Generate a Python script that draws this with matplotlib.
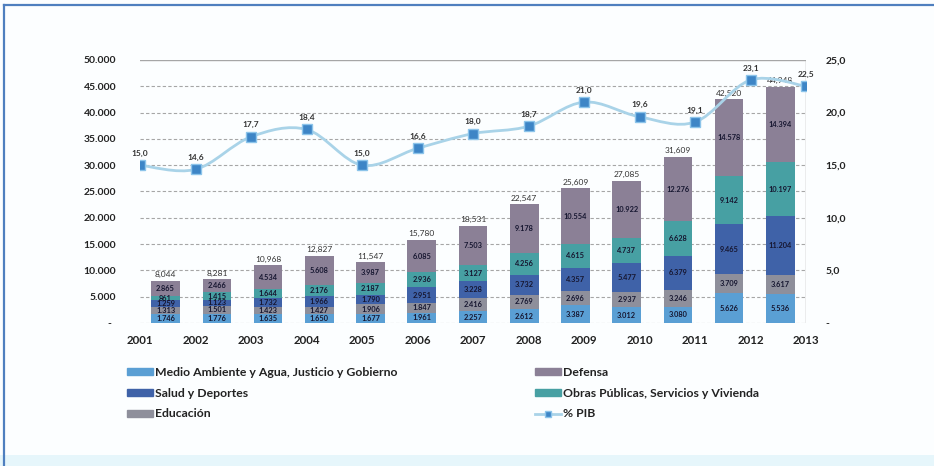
import numpy as np
import matplotlib
matplotlib.use("Agg")
import matplotlib.pyplot as plt
from matplotlib.path import Path
from matplotlib.patches import PathPatch, Rectangle
from matplotlib.lines import Line2D
from matplotlib.ticker import FixedLocator

plt.rcParams['font.family'] = ['Lato', 'DejaVu Sans']

# gasto por sector (millones), apilado de abajo hacia arriba
years = ['2001', '2002', '2003', '2004', '2005', '2006', '2007',
         '2008', '2009', '2010', '2011', '2012', '2013']
medio = [1746, 1776, 1635, 1650, 1677, 1961, 2257, 2612, 3387, 3012, 3080, 5626, 5536]
educacion = [1313, 1501, 1423, 1427, 1906, 1847, 2416, 2769, 2696, 2937, 3246, 3709, 3617]
salud = [1259, 1123, 1732, 1966, 1790, 2951, 3228, 3732, 4357, 5477, 6379, 9465, 11204]
obras = [861, 1415, 1644, 2176, 2187, 2936, 3127, 4256, 4615, 4737, 6628, 9142, 10197]
defensa = [2865, 2466, 4534, 5608, 3987, 6085, 7503, 9178, 10554, 10922, 12276, 14578, 14394]
pib = [15.0, 14.6, 17.7, 18.4, 15.0, 16.6, 18.0, 18.7, 21.0, 19.6, 19.1, 23.1, 22.5]

series = [
    ('Medio Ambiente y Agua, Justicio y Gobierno', medio, '#5a9fd4'),
    ('Educación', educacion, '#8e8f9b'),
    ('Salud y Deportes', salud, '#3f62a8'),
    ('Obras Públicas, Servicios y Vivienda', obras, '#47a0a3'),
    ('Defensa', defensa, '#8b8096'),
]
line_col = '#a9d3e8'
marker_col = '#3d85c6'
txt = '#222222'


def fmt_miles(v):
    return f"{v:,.0f}".replace(',', '.')


fig = plt.figure(figsize=(9.34, 4.66), dpi=100)
fig.patch.set_facecolor('#fcfeff')

# marco
fig.add_artist(Rectangle((0, 0), 1, 11 / 466, transform=fig.transFigure,
                         facecolor='#e6f6fb', edgecolor='none'))
fig.add_artist(Line2D([4 / 934, 4 / 934], [0, 1 - 5 / 466], transform=fig.transFigure,
                      color='#4f7fbf', lw=1.6))
fig.add_artist(Line2D([4 / 934, 1], [1 - 5 / 466, 1 - 5 / 466], transform=fig.transFigure,
                      color='#4f7fbf', lw=1.6))

rect = [140 / 934, 1 - 323 / 466, 666 / 934, 263 / 466]
ax = fig.add_axes(rect)
ax.set_facecolor('none')

x = np.arange(len(years))
bottom = np.zeros(len(years))
width = 0.56
for name, vals, col in series:
    vals = np.array(vals, dtype=float)
    ax.bar(x, vals, width, bottom=bottom, color=col, label=name, zorder=2)
    for xi, b, v in zip(x, bottom, vals):
        ax.text(xi, b + v / 2, fmt_miles(v), ha='center', va='center',
                fontsize=5.3, fontweight='bold', color='#161630', zorder=3)
    bottom += vals

for xi, tot in zip(x, bottom):
    ax.text(xi, tot + 500, f"{tot:,.0f}", ha='center', va='bottom',
            fontsize=6, color='#333333', zorder=3)

ax.set_xlim(-0.5, len(years) - 0.5)
ax.set_ylim(0, 50000)
ax.yaxis.set_major_locator(FixedLocator(np.arange(0, 50001, 5000)))
ax.set_yticklabels(['-  '] + [fmt_miles(v) for v in np.arange(5000, 50001, 5000)])
ax.set_xticks([])
ax.tick_params(axis='y', length=0, pad=17, labelsize=7.5, labelcolor=txt)
for lab in ax.get_yticklabels():
    lab.set_fontweight('bold')
for v in np.arange(0, 50000, 5000):
    ax.axhline(v, color='#a6a6a6', lw=0.8, ls=(0, (3, 2)), zorder=1)
ax.axhline(50000, color='#a6a6a6', lw=1.0, zorder=1)
for s in ax.spines.values():
    s.set_visible(False)

# % PIB en eje secundario
ax2 = fig.add_axes(rect, frameon=False)
ax2.set_facecolor('none')
ax2.set_xlim(0, len(years) - 1)
ax2.set_ylim(0, 25)
ax2.yaxis.tick_right()
ax2.set_yticks(np.arange(0, 26, 5))
ax2.set_yticklabels(['-'] + [f"{v:.1f}".replace('.', ',') for v in np.arange(5, 26, 5)])
ax2.set_xticks(x)
ax2.set_xticklabels(years)
ax2.tick_params(axis='y', length=0, pad=14, labelsize=7.5, labelcolor=txt)
ax2.tick_params(axis='x', length=0, pad=9, labelsize=8.3, labelcolor=txt)
for lab in ax2.get_yticklabels() + ax2.get_xticklabels():
    lab.set_fontweight('bold')
ax2.axvline(len(years) - 1, color='#a6a6a6', lw=1.0)

# linea suavizada (Catmull-Rom como curvas Bezier)
pts = np.column_stack([x, pib]).astype(float)
ext = np.vstack([pts[0], pts, pts[-1]])
verts = [tuple(pts[0])]
codes = [Path.MOVETO]
for i in range(len(pts) - 1):
    p0, p1, p2, p3 = ext[i], ext[i + 1], ext[i + 2], ext[i + 3]
    verts += [tuple(p1 + (p2 - p0) / 6), tuple(p2 - (p3 - p1) / 6), tuple(p2)]
    codes += [Path.CURVE4] * 3
ax2.add_patch(PathPatch(Path(verts, codes), facecolor='none', edgecolor=line_col,
                        lw=2.0, zorder=4))
ax2.plot(x, pib, ls='none', marker='s', ms=7, mfc=marker_col, mec='#8cc4ea',
         mew=1.0, zorder=5)
for xi, v in zip(x, pib):
    ax2.text(xi, v + 0.8, f"{v:.1f}".replace('.', ','), ha='center', va='bottom',
             fontsize=6, fontweight='bold', color='#333333', zorder=6)

# leyenda en dos columnas
h = {name: Rectangle((0, 0), 1, 1, color=col) for name, _, col in series}
pib_handle = Line2D([], [], color=line_col, lw=2, marker='s', ms=5,
                    mfc=marker_col, mec='#8cc4ea')
left_names = ['Medio Ambiente y Agua, Justicio y Gobierno', 'Salud y Deportes', 'Educación']
right_names = ['Defensa', 'Obras Públicas, Servicios y Vivienda']
leg_kw = dict(frameon=False, prop={'size': 8.8, 'weight': 'bold'}, labelcolor=txt,
              handlelength=2.1, handleheight=0.5, handletextpad=0.2,
              labelspacing=0.8, loc='upper left', borderaxespad=0)
fig.legend([h[n] for n in left_names], left_names,
           bbox_to_anchor=(122 / 934, 1 - 362 / 466), **leg_kw)
fig.legend([h[n] for n in right_names] + [pib_handle], right_names + ['% PIB'],
           bbox_to_anchor=(530 / 934, 1 - 362 / 466), **leg_kw)

fig.savefig('out.png', dpi=100, facecolor=fig.get_facecolor())
